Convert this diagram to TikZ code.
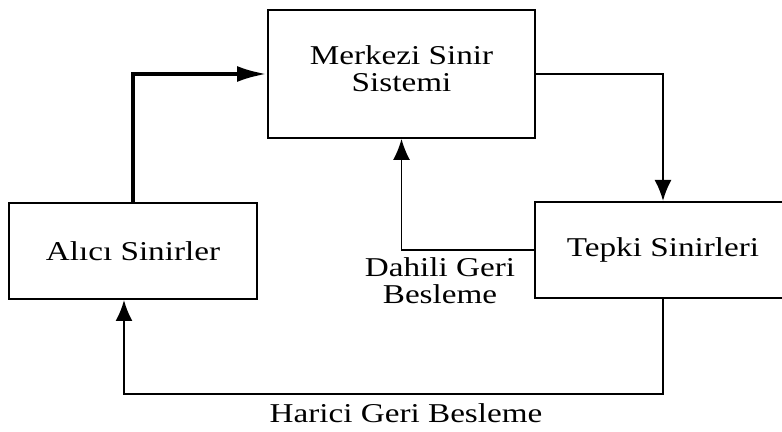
\documentclass[tikz,border=0pt]{standalone}
\usepackage{fontspec}
\setmainfont{Liberation Serif}[FakeStretch=1.22]
\usetikzlibrary{arrows.meta}

\begin{document}
\begin{tikzpicture}[x=0.5pt, y=-0.5pt,
  every node/.style={font=\fontsize{13.6pt}{13.5pt}\selectfont},
  unit/.style={draw, line width=1pt, align=center},
  fwd/.style={-{Latex[length=15pt,width=8pt]}, line width=2pt},
  fb/.style={-{Latex[length=10.5pt,width=8.5pt]}, line width=1pt}]
\clip (0,0) rectangle (782,432);

% units
\node[unit, minimum width=133.5pt, minimum height=64pt, text depth=5pt] (cns) at (401.5,74) {Merkezi Sinir\\Sistemi};
\node[unit, minimum width=124pt, minimum height=48pt] (rec) at (133,251) {Alıcı Sinirler};
\node[unit, minimum width=128pt, minimum height=48pt] (eff) at (663,250) {Tepki Sinirleri};

% signal flow
\draw[fwd] (rec.north) |- (cns.west);
\draw[fb] (cns.east) -| (eff.north);

% internal feedback
\draw[fb, line width=0.7pt] (eff.west) -| (cns.south);
\node[align=center] (int label) at (440,281) {Dahili Geri\\Besleme};

% external feedback
\coordinate (ext corner) at (124,394);
\draw[fb] (eff.south) |- (ext corner) -- ([xshift=-4.5pt]rec.south);
\node[anchor=base] (ext label) at (406,423) {Harici Geri Besleme};

\end{tikzpicture}
\end{document}
